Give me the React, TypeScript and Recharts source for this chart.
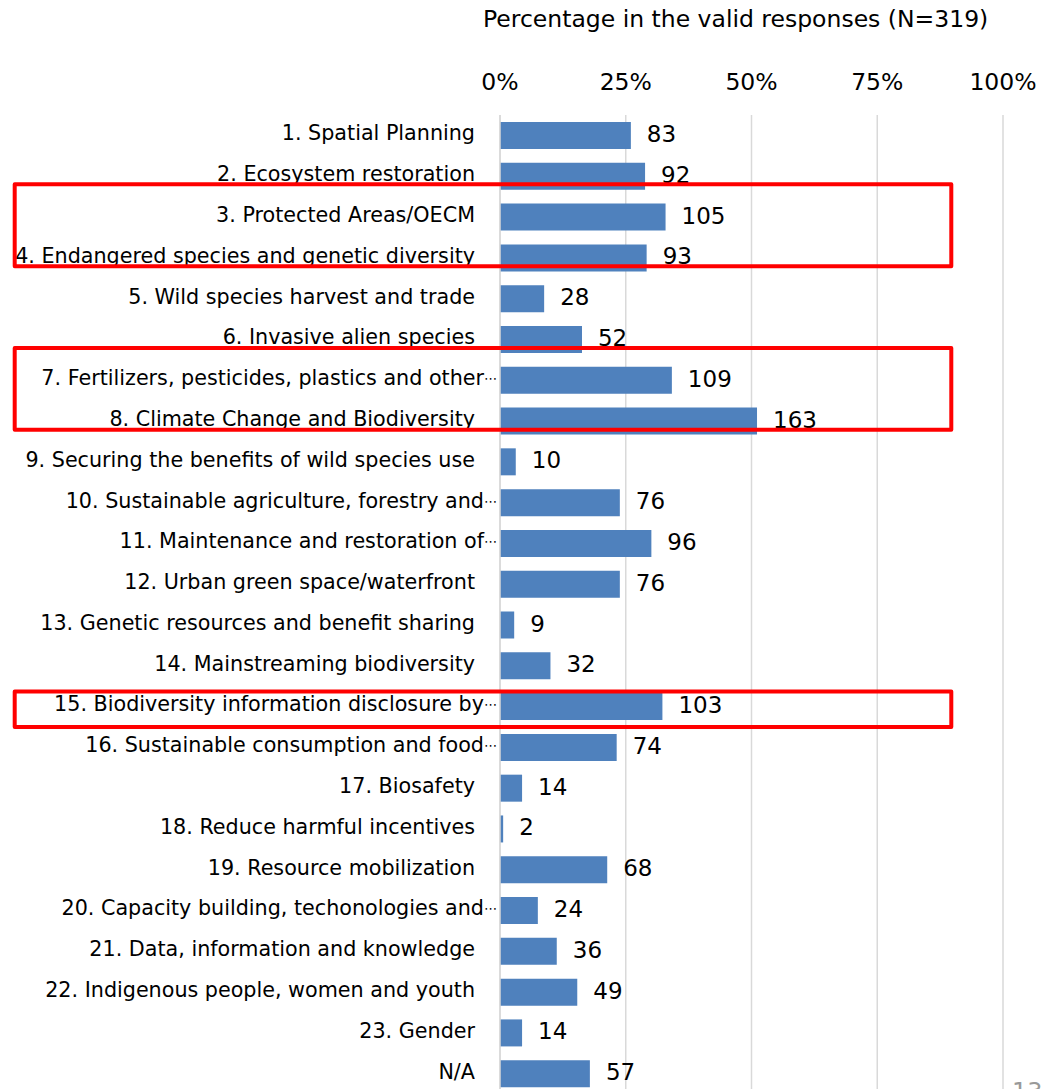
import React from "react";
import { BarChart, Bar, XAxis, YAxis, CartesianGrid, LabelList } from "recharts";

const categories = [
  "1. Spatial Planning",
  "2. Ecosystem restoration",
  "3. Protected Areas/OECM",
  "4. Endangered species and genetic diversity",
  "5. Wild species harvest and trade",
  "6. Invasive alien species",
  "7. Fertilizers, pesticides, plastics and other⋯",
  "8. Climate Change and Biodiversity",
  "9. Securing the benefits of wild species use",
  "10. Sustainable agriculture, forestry and⋯",
  "11. Maintenance and restoration of⋯",
  "12. Urban green space/waterfront",
  "13. Genetic resources and benefit sharing",
  "14. Mainstreaming biodiversity",
  "15. Biodiversity information disclosure by⋯",
  "16. Sustainable consumption and food⋯",
  "17. Biosafety",
  "18. Reduce harmful incentives",
  "19. Resource mobilization",
  "20. Capacity building, techonologies and⋯",
  "21. Data, information and knowledge",
  "22. Indigenous people, women and youth",
  "23. Gender",
  "N/A",
];

const counts = [83, 92, 105, 93, 28, 52, 109, 163, 10, 76, 96, 76, 9, 32, 103, 74, 14, 2, 68, 24, 36, 49, 14, 57];

const totalResponses = 319;
const xTicks = [0, 25, 50, 75, 100];
const title = "Percentage in the valid responses (N=319)";
const pageNumber = "13";

const data = categories.map((name, i) => ({
  name,
  count: counts[i],
  pct: (counts[i] / totalResponses) * 100,
}));

const highlightBoxes = [
  { x: 14.7, y: 184.3, w: 936.6, h: 82 },
  { x: 14.7, y: 348, w: 936.6, h: 81.7 },
  { x: 14.7, y: 691.5, w: 936.6, h: 35.5 },
];

const ELLIPSIS = "⋯";

const YTick = (props: any) => {
  const { x, y, payload } = props;
  const label: string = String(payload.value);
  if (label.endsWith(ELLIPSIS)) {
    const main = label.slice(0, -1);
    return (
      <text x={x + 22} y={y + 5} textAnchor="end" fontSize={20.7} fill="#000">
        {main}
        <tspan fontSize={13} dy={-2}>
          {ELLIPSIS}
        </tspan>
      </text>
    );
  }
  return (
    <text x={x} y={y + 5} textAnchor="end" fontSize={20.7} fill="#000">
      {label}
    </text>
  );
};

const ValueLabel = (props: any) => {
  const { x, y, width, height, value } = props;
  return (
    <text x={x + width + 16} y={y + height / 2 + 6.5} textAnchor="start" fontSize={23} fill="#000">
      {value}
    </text>
  );
};

export default function App() {
  return (
    <div
      style={{
        position: "absolute",
        left: 0,
        top: 0,
        width: 1042,
        height: 1089,
        overflow: "hidden",
        background: "#fff",
        fontFamily: "'DejaVu Sans', sans-serif",
      }}
    >
      <div
        style={{
          position: "absolute",
          left: 483,
          top: 5,
          fontSize: 23.5,
          color: "#000",
          whiteSpace: "nowrap",
        }}
      >
        {title}
      </div>
      <div style={{ position: "absolute", left: 0, top: 0 }}>
        <BarChart
          width={1042}
          height={1094}
          data={data}
          layout="vertical"
          margin={{ top: 0, right: 39, bottom: 0, left: 0 }}
          barSize={27}
        >
          <CartesianGrid horizontal={false} vertical={true} stroke="#D9D9D9" strokeWidth={1.5} />
          <XAxis
            type="number"
            orientation="top"
            domain={[0, 100]}
            ticks={xTicks}
            tickFormatter={(v: number) => `${v}%`}
            axisLine={false}
            tickLine={false}
            height={115}
            tickSize={0}
            tickMargin={25}
            tick={{ fontSize: 23.5, fill: "#000" }}
            interval={0}
          />
          <YAxis
            type="category"
            dataKey="name"
            width={500}
            axisLine={{ stroke: "#D9D9D9", strokeWidth: 1.5 }}
            tickLine={false}
            tickSize={0}
            tickMargin={25}
            interval={0}
            tick={<YTick />}
          />
          <Bar dataKey="pct" fill="#4F81BD" isAnimationActive={false}>
            <LabelList dataKey="count" content={<ValueLabel />} />
          </Bar>
        </BarChart>
      </div>
      <svg
        width={1042}
        height={1089}
        style={{ position: "absolute", left: 0, top: 0, pointerEvents: "none" }}
      >
        {highlightBoxes.map((b, i) => (
          <rect
            key={i}
            x={b.x}
            y={b.y}
            width={b.w}
            height={b.h}
            fill="none"
            stroke="#FF0000"
            strokeWidth={4}
            strokeLinejoin="round"
          />
        ))}
      </svg>
      <div
        style={{
          position: "absolute",
          left: 1012,
          top: 1078,
          fontSize: 24,
          color: "#999",
        }}
      >
        {pageNumber}
      </div>
    </div>
  );
}
